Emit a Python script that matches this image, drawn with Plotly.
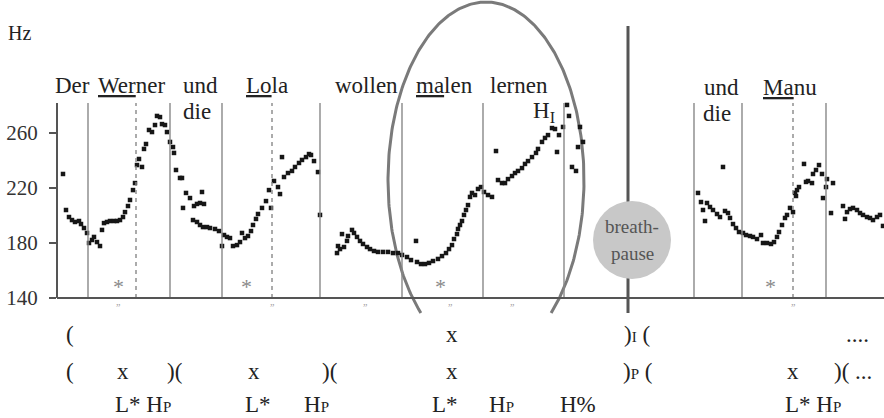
import numpy as np
import plotly.graph_objects as go

W, H = 884, 418
LEFT = 57
Y_MIN, Y_MAX = 52.73, 356.73      # Hz range spanning the whole figure height
PX_PER_HZ = H / (Y_MAX - Y_MIN)
SERIF = "Liberation Serif"

# ---------------- data (time units, F0 in Hz) ----------------
t_phrase1 = [63, 66, 69, 72, 75, 79, 81, 84, 87, 89, 92, 94, 97, 100, 102, 104, 107, 110, 114, 117,
             120, 123, 125, 128, 130, 133, 135, 137, 139, 142, 144, 146, 149, 152, 155, 157, 160, 162,
             165, 167, 170, 173, 174, 176, 180, 182,
             183, 186, 190, 194, 197, 200, 202, 204,
             193, 197, 200, 203, 207, 210, 215, 219, 222, 224, 227, 230, 233, 237, 240, 242, 245,
             248, 251, 253, 256, 258, 262, 266, 271, 269, 274, 278, 280, 282, 284, 288, 292, 295,
             299, 302, 306, 309, 311, 314, 318, 320,
             337, 338, 340, 342, 344, 347, 348, 352, 354, 357, 360, 363, 367, 370, 374, 378, 383,
             388, 393, 398, 402, 407, 411, 416, 417, 421, 425, 429, 433, 438, 442, 446, 449, 452,
             454, 457, 458, 460, 462, 464, 466, 468, 470, 472, 475, 478, 481, 484, 488, 492, 496,
             498, 502, 505, 508, 512, 515, 518, 522, 525, 528, 532, 536, 538, 542, 545, 548, 552,
             555, 557, 559, 563, 567, 569, 572, 576, 578, 580, 583]
f0_phrase1 = [230.2, 204.0, 198.9, 196.7, 195.3, 196.0, 193.8, 190.9, 187.3, 180.0, 182.2, 184.4,
              180.7, 177.8, 189.5, 194.5, 195.3, 196.0, 196.0, 196.0, 196.7, 198.9, 202.5, 206.9,
              211.3, 218.5, 223.6, 236.7, 241.1, 235.3, 248.4, 252.0, 262.2, 260.7, 265.8, 272.4,
              271.6, 266.5, 265.8, 260.7, 253.5, 249.8, 245.5, 233.1, 227.3, 227.3,
              205.5, 216.4, 212.7, 206.9, 208.4, 209.1, 217.1, 208.4,
              196.7, 195.3, 193.1, 191.6, 191.6, 190.9, 190.2, 188.7, 177.8, 185.8, 184.4, 183.6,
              177.8, 178.5, 180.7, 187.3, 183.6, 185.1, 188.7, 193.1, 197.5, 201.1, 205.5, 210.5,
              205.5, 218.5, 225.1, 220.7, 215.6, 242.5, 228.0, 230.9, 232.4, 235.3, 238.2, 240.4,
              242.5, 244.7, 244.0, 239.6, 231.6, 200.4,
              172.7, 177.8, 175.6, 186.5, 177.1, 181.5, 185.1, 189.5, 187.3, 184.4, 181.5, 179.3,
              177.1, 175.6, 174.2, 173.5, 173.5, 173.5, 172.7, 172.7, 171.3, 169.8, 167.6, 181.5,
              166.2, 164.7, 164.7, 165.5, 166.9, 168.4, 170.5, 172.7, 175.6, 178.5, 182.9, 186.5,
              190.2, 193.1, 196.0, 200.4, 204.0, 207.6, 213.5, 216.4, 214.9, 219.3, 220.7, 217.1,
              214.9, 213.5, 246.9, 225.8, 223.6, 223.6, 226.5, 228.7, 230.9, 232.4, 234.5, 237.5,
              239.6, 242.5, 245.5, 248.4, 253.5, 256.4, 258.5, 263.6, 262.9, 246.2, 258.5, 264.4,
              280.4, 272.4, 235.3, 232.4, 249.8, 264.4, 253.5]
t_phrase2 = [698, 701, 703, 705, 707, 710, 713, 717, 720, 723, 725, 728, 730, 733, 736, 739, 743,
             746, 750, 753, 757, 761, 763, 767, 771, 774, 777, 779, 782, 785, 787, 790, 793, 795,
             797, 799, 796, 804, 806, 808, 812, 813, 816, 819, 822, 823, 826, 827, 831, 833, 843,
             845, 847, 850, 853, 857, 860, 863, 867, 870, 873, 877, 880, 883]
f0_phrase2 = [216.4, 209.8, 204.0, 196.0, 209.1, 206.2, 204.0, 201.1, 198.9, 235.3, 203.3, 201.8,
              198.2, 193.8, 190.9, 188.0, 187.3, 185.8, 185.1, 184.4, 182.9, 185.8, 180.0, 180.0,
              179.3, 180.7, 184.4, 188.0, 193.1, 198.2, 200.4, 205.5, 202.5, 216.4, 218.5, 220.7,
              214.2, 237.5, 224.4, 225.1, 223.6, 230.2, 233.1, 236.7, 230.2, 212.7, 220.7, 226.5,
              201.8, 223.6, 206.9, 197.5, 202.5, 204.7, 205.5, 204.0, 201.8, 200.4, 198.9, 198.2,
              196.7, 198.9, 200.4, 192.4]

y_ticks = [140, 180, 220, 260]
word_bounds = [88, 170, 222, 320, 402, 483, 564, 694, 742, 826]
accent_bounds = [136, 272, 793]
pause_time = 628
star_times = [118, 246, 440, 770]
syllable_marks = [118, 272, 365, 450, 512, 793]

words = ["Der", "<u>Wer</u>ner", "und", "die", "<u>Lo</u>la", "wollen", "<u>ma</u>len", "lernen",
         "H<sub>I</sub>", "und", "die", "<u>Ma</u>nu"]
P = "<span style='font-size:15px'>P</span>"
I = "<span style='font-size:15px'>I</span>"
row1 = ["(", "x", ")" + I + " (", "...."]
row2 = ["(", "x", ")(", "x", ")(", "x", ")" + P + " (", "x", ")( ..."]
row3 = ["L* H" + P, "L*", "H" + P, "L*", "H" + P, "H%", "L* H" + P]

# ---------------- layout helpers ----------------
def hz_at(px):
    return Y_MAX - px / PX_PER_HZ

def pap(px):
    return 1 - px / H

def label(s, x, px, size=23, color="#222"):
    return dict(text=s, x=x, y=pap(px), xref="x", yref="paper", showarrow=False,
                xanchor="center", yanchor="middle",
                font=dict(family=SERIF, size=size, color=color))

fig = go.Figure()

# ellipse (highlight), clipped just below the baseline
cx, cy, ax, by = 486, hz_at(180), 98, 178 / PX_PER_HZ
th0 = np.arcsin((hz_at(313) - cy) / by)
th = np.linspace(th0, np.pi - th0, 300)
fig.add_trace(go.Scatter(x=cx + ax * np.cos(th), y=cy + by * np.sin(th), mode="lines",
                         line=dict(color="#7a7a7a", width=3), hoverinfo="skip"))

for t, f in [(t_phrase1, f0_phrase1), (t_phrase2, f0_phrase2)]:
    fig.add_trace(go.Scatter(x=t, y=f, mode="markers",
                             marker=dict(symbol="square", size=4.5, color="#161616"),
                             hoverinfo="skip"))

shapes = []
top_hz = hz_at(103)
for b in word_bounds:
    shapes.append(dict(type="line", xref="x", yref="y", x0=b, x1=b, y0=140, y1=top_hz,
                       line=dict(color="#888", width=1.4)))
for b in accent_bounds:
    shapes.append(dict(type="line", xref="x", yref="y", x0=b, x1=b, y0=140, y1=top_hz,
                       line=dict(color="#888", width=1.4, dash="4px,4px")))
# axis lines
shapes.append(dict(type="line", xref="paper", yref="paper", x0=0, x1=0, y0=pap(298), y1=pap(103),
                   line=dict(color="#555", width=2)))
shapes.append(dict(type="line", xref="paper", yref="paper", x0=0, x1=1, y0=pap(298), y1=pap(298),
                   line=dict(color="#555", width=2)))
# breath pause
shapes.append(dict(type="line", xref="x", yref="y", x0=pause_time, x1=pause_time,
                   y0=hz_at(313), y1=hz_at(26), line=dict(color="#555", width=3)))
r = 39
shapes.append(dict(type="circle", xref="x", yref="y", x0=pause_time + 4 - r, x1=pause_time + 4 + r,
                   y0=hz_at(240) - r / PX_PER_HZ, y1=hz_at(240) + r / PX_PER_HZ,
                   fillcolor="#c8c8c8", line=dict(width=0)))

ann = []
ann.append(dict(text="Hz", x=(19 - LEFT) / (W - LEFT), y=pap(33), xref="paper", yref="paper",
                showarrow=False, xanchor="center", yanchor="middle",
                font=dict(family=SERIF, size=20, color="#222")))
word_x = [72, 131, 200, 197, 267, 366, 444, 519, 544, 721, 717, 790]
word_y = [85, 85, 85, 111, 85, 85, 85, 85, 112, 87, 114, 87]
for s, x, y in zip(words, word_x, word_y):
    ann.append(label(s, x, y))
for x in star_times:
    ann.append(label("*", x, 286, size=22, color="#8a8a8a"))
for x in syllable_marks:
    ann.append(label("\u201d", x, 307, size=10, color="#999"))
ann.append(label("breath-", pause_time + 4, 226, size=19, color="#555"))
ann.append(label("pause", pause_time + 4, 253, size=19, color="#555"))
for s, x in zip(row1, [70, 452, 637, 857]):
    ann.append(label(s, x, 334))
for s, x in zip(row2, [70, 123, 174, 254, 329, 452, 637, 793, 853]):
    ann.append(label(s, x, 371))
for s, x in zip(row3, [143, 258, 316, 445, 501, 578, 813]):
    ann.append(label(s, x, 404))

fig.update_layout(
    width=W, height=H, margin=dict(l=LEFT, r=0, t=0, b=0),
    paper_bgcolor="white", plot_bgcolor="white", showlegend=False,
    shapes=shapes, annotations=ann,
    xaxis=dict(range=[LEFT, W], visible=False, fixedrange=True),
    yaxis=dict(range=[Y_MIN, Y_MAX], tickvals=y_ticks, ticks="outside", ticklen=7, tickwidth=2,
               tickcolor="#555", showline=False, showgrid=False, zeroline=False,
               ticklabelstandoff=7,
               tickfont=dict(family=SERIF, size=21, color="#333"), fixedrange=True),
)

fig.write_html("out.html", config={"displayModeBar": False},
               post_script="document.body.style.margin='0';document.body.style.overflow='hidden';")
